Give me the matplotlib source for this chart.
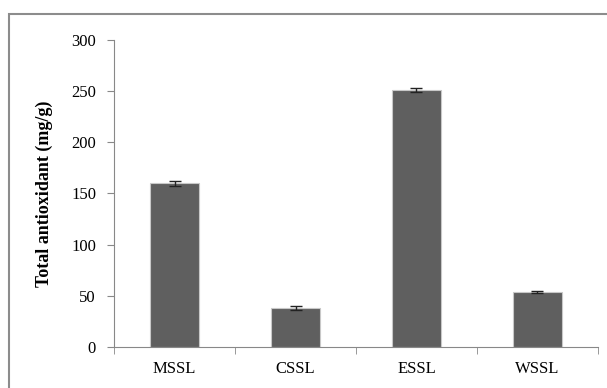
import numpy as np
import matplotlib.pyplot as plt
from matplotlib.patches import Rectangle

# Data
categories = ['MSSL', 'CSSL', 'ESSL', 'WSSL']
values = [160, 38, 251, 54]
errors = [2.5, 2, 2, 1]

plt.rcParams['font.family'] = ['Liberation Serif', 'DejaVu Serif']

fig = plt.figure(figsize=(6.07, 3.88), dpi=100)
ax = fig.add_axes([0.188, 0.106, 0.797, 0.791])

# Outer frame (cut off at right and bottom, as in the reference)
fig.patches.append(Rectangle((9 / 607, -0.05), 1.0, 1 - 14 / 388 + 0.05,
                             transform=fig.transFigure, fill=False,
                             edgecolor='#8c8c8c', linewidth=1.5))

x = np.arange(len(categories))
ax.bar(x, values, width=0.4, color='#5f5f5f', edgecolor='#c8c8c8', linewidth=0.8,
       yerr=errors, error_kw=dict(ecolor='#222222', elinewidth=1, capsize=4, capthick=1))

ax.set_xlim(-0.5, len(categories) - 0.5)
ax.set_ylim(0, 300)
ax.set_yticks(np.arange(0, 301, 50))
ax.set_xticks(x)
ax.set_xticklabels(categories, fontsize=12)
ax.set_xticks(np.arange(-0.5, len(categories)), minor=True)
ax.tick_params(axis='x', which='major', length=0, pad=10)
ax.tick_params(axis='x', which='minor', length=5, color='#888888', direction='out')
ax.tick_params(axis='y', labelsize=12, length=5, color='#888888', pad=8)

for s in ['top', 'right']:
    ax.spines[s].set_visible(False)
for s in ['left', 'bottom']:
    ax.spines[s].set_color('#888888')

ax.set_ylabel('Total antioxidant (mg/g)', fontsize=13, fontweight='bold', labelpad=13)

fig.savefig('out.png', dpi=100)
